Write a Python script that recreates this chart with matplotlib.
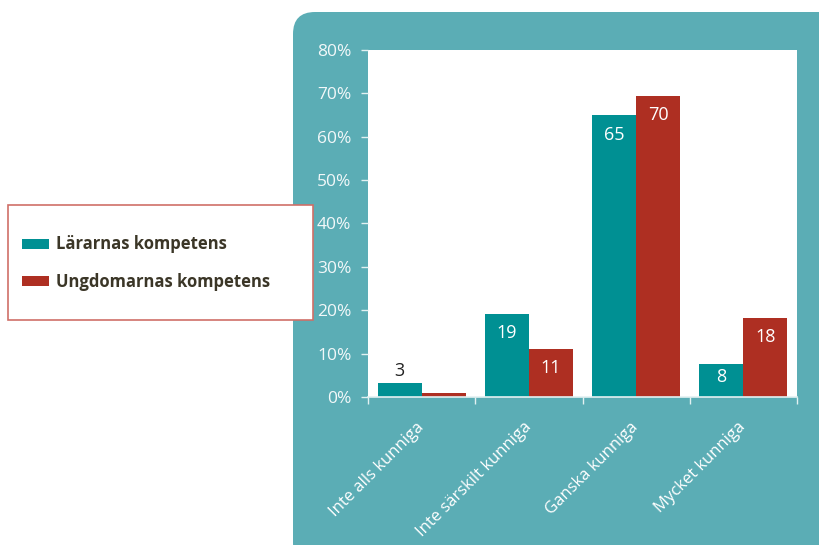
import matplotlib.pyplot as plt
import numpy as np
from matplotlib.patches import FancyBboxPatch, Rectangle

categories = ['Inte alls kunniga', 'Inte särskilt kunniga', 'Ganska kunniga', 'Mycket kunniga']
larare = [3.3, 19.2, 65.0, 7.7]
ungdomar = [0.9, 11.1, 69.5, 18.3]
larare_labels = ['3', '19', '65', '8']
ungdomar_labels = ['', '11', '70', '18']
series_names = ['Lärarnas kompetens', 'Ungdomarnas kompetens']

teal = '#009093'
red = '#ae2f22'
panel = '#5badb5'
light = '#e3f1f2'

plt.rcParams['font.family'] = ['Open Sans', 'DejaVu Sans']

fig = plt.figure(figsize=(8.2, 5.45), dpi=100)

# rounded teal background panel (in inches so the corners stay round)
bg = FancyBboxPatch((2.93, -0.2), 5.6, 5.53, boxstyle='round,pad=0,rounding_size=0.22',
                    transform=fig.dpi_scale_trans, facecolor=panel, edgecolor='none', zorder=-1)
fig.patches.append(bg)

ax = fig.add_axes([0.4488, 0.2716, 0.5232, 0.6367])
ax.set_facecolor('white')

x = np.arange(len(categories))
w = 0.41
b1 = ax.bar(x - w / 2, larare, w, color=teal, label=series_names[0])
b2 = ax.bar(x + w / 2, ungdomar, w, color=red, label=series_names[1])

for bars, labels in [(b1, larare_labels), (b2, ungdomar_labels)]:
    for bar, lab in zip(bars, labels):
        if not lab:
            continue
        h = bar.get_height()
        cx = bar.get_x() + bar.get_width() / 2
        if h < 5:
            ax.text(cx, h + 2.8, lab, ha='center', va='center', color='#222222', fontsize=13)
        else:
            ax.text(cx, max(h - 4.5, h / 2 + 0.7), lab, ha='center', va='center', color='white', fontsize=13)

ax.set_xlim(-0.5, 3.5)
ax.set_ylim(0, 80)
ax.set_yticks(np.arange(0, 81, 10))
ax.set_yticklabels([f'{v}%' for v in range(0, 81, 10)])
ax.set_xticks(x)
ax.set_xticklabels(categories, rotation=45, ha='right', va='center', rotation_mode='anchor')
ax.set_xticks(np.arange(-0.5, 4, 1), minor=True)

for s in ['top', 'right', 'left']:
    ax.spines[s].set_visible(False)
ax.spines['bottom'].set_color(light)
ax.spines['bottom'].set_linewidth(1.2)

ax.tick_params(axis='y', colors=light, labelcolor='#f2f8f9', labelsize=12.5, length=5, width=1, pad=7)
ax.tick_params(axis='x', which='major', length=0, labelcolor='white', labelsize=12, pad=20)
ax.tick_params(axis='x', which='minor', length=5, width=1, color=light)

# legend box on the left
frame = Rectangle((0.0098, 0.4128), 0.372, 0.211, transform=fig.transFigure,
                  facecolor='white', edgecolor='#cf6f68', linewidth=1.2, zorder=2)
fig.patches.append(frame)
leg = fig.legend(handles=[b1, b2], loc='upper left', bbox_to_anchor=(0.027, 0.568),
                 frameon=False, borderpad=0, borderaxespad=0, handlelength=1.6,
                 handleheight=0.55, handletextpad=0.45, labelspacing=1.15,
                 prop={'weight': 'bold', 'size': 12})
for t in leg.get_texts():
    t.set_color('#3b3627')
leg.set_zorder(5)

fig.savefig('out.png', dpi=100)
